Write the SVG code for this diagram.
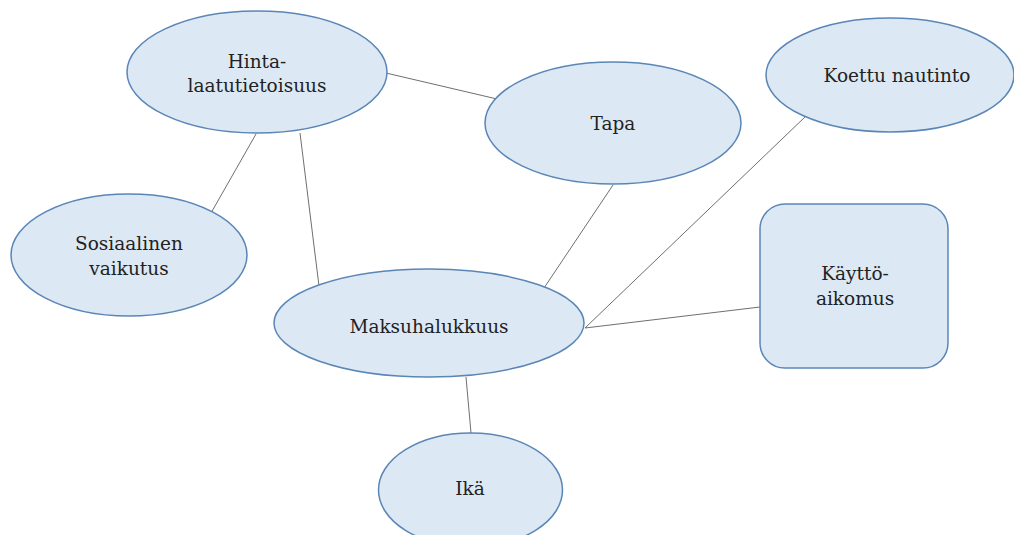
<svg xmlns="http://www.w3.org/2000/svg" width="1014" height="535" viewBox="0 0 1014 535">
<style>
.n{fill:#dde8f5;stroke:#5a86b6;stroke-width:1.5}
.c line{stroke:#6f6f6f;stroke-width:1}
text{font-family:"DejaVu Serif","Liberation Serif",serif;font-size:18.5px;fill:#222;text-anchor:middle}
</style>
<rect width="1014" height="535" fill="#fff"/>
<g class="c" id="connectors">
<line x1="386" y1="73" x2="497" y2="99"/>
<line x1="256" y1="134" x2="211" y2="213"/>
<line x1="300" y1="133" x2="320" y2="294"/>
<line x1="613" y1="185" x2="540" y2="294"/>
<line x1="806" y1="116" x2="585" y2="328"/>
<line x1="760" y1="307" x2="585" y2="328"/>
<line x1="466" y1="377" x2="471" y2="433"/>
</g>
<g id="hinta"><ellipse class="n" cx="257" cy="72" rx="130" ry="61"/><text x="257" y="68">Hinta-</text><text x="257" y="92">laatutietoisuus</text></g>
<g id="tapa"><ellipse class="n" cx="613" cy="123" rx="128" ry="61"/><text x="613" y="130">Tapa</text></g>
<g id="koettu"><ellipse class="n" cx="890" cy="75" rx="124" ry="57"/><text x="897" y="82">Koettu nautinto</text></g>
<g id="sosiaalinen"><ellipse class="n" cx="129" cy="255" rx="118" ry="61"/><text x="129" y="250">Sosiaalinen</text><text x="129" y="275">vaikutus</text></g>
<g id="maksu"><ellipse class="n" cx="429" cy="323" rx="155" ry="54"/><text x="429" y="333">Maksuhalukkuus</text></g>
<g id="ika"><ellipse class="n" cx="470.5" cy="490" rx="92" ry="57"/><text x="470" y="495">Ikä</text></g>
<g id="kaytto"><rect class="n" x="760" y="204" width="188" height="164" rx="25"/><text x="855" y="280">Käyttö-</text><text x="855" y="305">aikomus</text></g>
</svg>
